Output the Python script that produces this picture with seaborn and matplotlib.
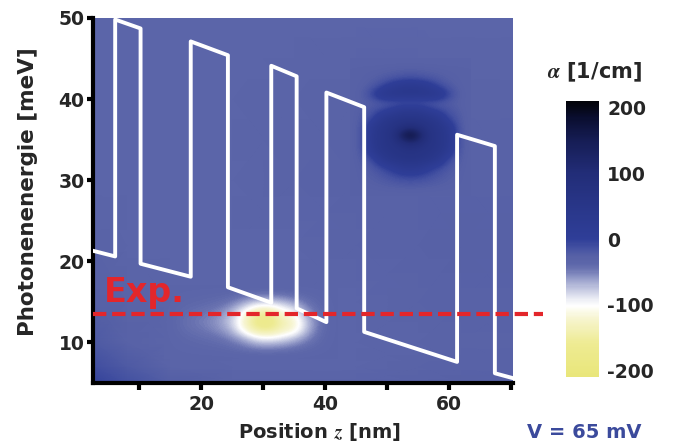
import numpy as np
import matplotlib
matplotlib.use("Agg")
import matplotlib.pyplot as plt
import seaborn as sns
from matplotlib.colors import LinearSegmentedColormap, Normalize
from matplotlib.cm import ScalarMappable

# absorption alpha [1/cm], coarse background grid (rows = energy, cols = position)
bg_z = [2.5, 8, 15, 25, 35, 45, 55, 62, 70.3]
bg_E = [5, 7, 10, 15, 22, 30, 40, 50]
bg_alpha = [
    [-2, -12, -24, -30, -31, -30, -28, -27, -27],
    [-10, -20, -32, -34, -34, -33, -30, -29, -29],
    [-20, -28, -34, -34, -35, -35, -32, -30, -30],
    [-27, -31, -34, -34, -35, -34, -30, -28, -28],
    [-31, -33, -34, -34, -33, -30, -28, -27, -27],
    [-33, -34, -35, -33, -31, -29, -28, -28, -28],
    [-34, -35, -35, -34, -32, -30, -29, -30, -31],
    [-35, -36, -36, -35, -34, -33, -34, -35, -36],
]

# bright (negative alpha) spot near the laser line, z 14..42 nm, E 8..17 meV
spot_z_range = [14, 42]
spot_E_range = [8, 17]
spot_alpha = [
    [-34, -34, -34, -34, -34, -34, -34, -34, -34, -34, -34, -34, -34, -34],
    [-34, -35, -36, -37, -38, -41, -47, -54, -55, -52, -46, -40, -36, -34],
    [-34, -37, -39, -41, -44, -52, -66, -90, -95, -86, -72, -52, -39, -34],
    [-34, -40, -44, -48, -55, -70, -112, -150, -155, -130, -115, -70, -42, -34],
    [-34, -42, -47, -52, -60, -80, -125, -175, -180, -140, -122, -75, -44, -34],
    [-34, -40, -44, -48, -55, -74, -112, -155, -160, -118, -105, -62, -41, -34],
    [-34, -37, -39, -41, -45, -54, -76, -100, -102, -88, -72, -48, -38, -34],
    [-34, -35, -36, -37, -38, -41, -47, -54, -55, -51, -45, -39, -36, -34],
    [-34, -34, -34, -34, -34, -34, -34, -34, -34, -34, -34, -34, -34, -34],
]

# dark (absorbing) blobs, z 44..63.5 nm, E 28..45 meV
blob_z_range = [44, 63.5]
blob_E_range = [28, 45]
blob_alpha = [
    [-29, -29, -29, -29, -29, -29, -29, -29, -29, -29, -29, -29, -29],
    [-29, -27, -26, -24, -22, -20, -19, -20, -22, -24, -26, -27, -29],
    [-29, -26, -23, -18, -12, -6, -4, -6, -12, -18, -23, -26, -29],
    [-29, -24, -18, -8, 5, 25, 30, 25, 5, -8, -18, -24, -29],
    [-29, -20, -8, 30, 50, 55, 58, 55, 50, 30, -8, -20, -29],
    [-29, -14, 25, 50, 55, 60, 65, 60, 55, 50, 25, -14, -29],
    [-29, -10, 35, 52, 60, 80, 100, 85, 62, 52, 35, -10, -29],
    [-29, -10, 35, 52, 65, 140, 195, 135, 65, 52, 35, -10, -29],
    [-29, -12, 28, 50, 58, 75, 90, 75, 58, 50, 28, -12, -29],
    [-29, -18, -5, 35, 50, 55, 55, 55, 50, 35, -5, -18, -29],
    [-29, -22, -14, -5, 10, 30, 35, 30, 10, -5, -14, -22, -29],
    [-29, -26, -24, -22, -22, -22, -22, -22, -22, -22, -24, -26, -29],
    [-29, -22, 0, 30, 40, 42, 42, 42, 40, 30, 0, -22, -29],
    [-29, -26, -18, -5, 15, 28, 32, 28, 15, -5, -18, -26, -29],
    [-29, -28, -26, -22, -18, -14, -12, -14, -18, -22, -26, -28, -29],
    [-29, -28, -28, -27, -26, -25, -24, -25, -26, -27, -28, -28, -29],
    [-31, -31, -31, -31, -31, -31, -31, -31, -31, -31, -31, -31, -31],
]

# conduction band edge profile
band_z = [2.5, 6.1, 6.1, 10.2, 10.2, 18.3, 18.3, 24.3, 24.3, 31.3, 31.3,
          35.4, 35.4, 40.2, 40.2, 46.3, 46.3, 61.3, 61.3, 67.4, 67.4, 70.3]
band_E = [21.3, 20.6, 49.8, 48.7, 19.7, 18.1, 47.1, 45.4, 16.8, 14.9, 44.1,
          42.8, 14.2, 12.5, 40.8, 39.0, 11.3, 7.6, 35.6, 34.2, 6.2, 5.6]

exp_E = 13.5

x_ticks = [10, 20, 30, 40, 50, 60, 70]
x_tick_labels = ["", "20", "", "40", "", "60", ""]
y_ticks = [10, 20, 30, 40, 50]
cbar_ticks = [200, 100, 0, -100, -200]
cbar_labels = ["200", "100", "0", "-100", "-200"]

# colour map: yellow -> white -> blue -> black (nearly flat around the background level)
cmap_stops = [
    (-210, "#e9e67a"), (-160, "#eeeb92"), (-120, "#f7f5d2"), (-102, "#ffffff"),
    (-94, "#f1f2f7"), (-78, "#c8cce3"), (-60, "#959cc9"), (-46, "#6a73b1"),
    (-38, "#5d67aa"), (-26, "#5660a6"), (-14, "#4552a2"), (0, "#2f3e98"),
    (40, "#2a388c"), (100, "#222d78"), (150, "#161d55"), (185, "#0a0e30"),
    (210, "#020308"),
]
red = "#e3262b"

sns.set_theme(style="ticks")
plt.rcParams["font.family"] = ["DejaVu Sans"]
plt.rcParams["font.weight"] = "bold"
plt.rcParams["mathtext.fontset"] = "stix"

cmap = LinearSegmentedColormap.from_list(
    "absorption", [((v + 210) / 420, c) for v, c in cmap_stops])
norm = Normalize(-210, 210)

fig = plt.figure(figsize=(6.73, 4.42), dpi=100)
ax = fig.add_axes([0.138, 0.1335, 0.624, 0.826])

ax.pcolormesh(bg_z, bg_E, np.array(bg_alpha), shading="gouraud",
              cmap=cmap, norm=norm, zorder=0)
ax.imshow(np.array(spot_alpha), extent=spot_z_range + spot_E_range,
          origin="lower", aspect="auto", interpolation="bicubic",
          cmap=cmap, norm=norm, zorder=1)
ax.imshow(np.array(blob_alpha), extent=blob_z_range + blob_E_range,
          origin="lower", aspect="auto", interpolation="bicubic",
          cmap=cmap, norm=norm, zorder=1)

sns.lineplot(x=band_z, y=band_E, sort=False, estimator=None, color="white",
             linewidth=2.8, ax=ax, zorder=3)

ax.axhline(exp_E, xmin=0, xmax=1.072, color=red, lw=3,
           ls=(0, (3.2, 1.4)), clip_on=False, zorder=4)
ax.text(4.2, 15.0, "Exp.", color=red, fontsize=24, fontweight="bold",
        ha="left", va="baseline", zorder=5)

ax.set_xlim(2.5, 70.3)
ax.set_ylim(5, 50)
ax.set_xticks(x_ticks, labels=x_tick_labels)
ax.set_yticks(y_ticks)
for s in ["top", "right"]:
    ax.spines[s].set_visible(False)
for s in ["left", "bottom"]:
    ax.spines[s].set_linewidth(3)
    ax.spines[s].set_color("black")
ax.tick_params(axis="both", direction="out", width=3, color="black",
               labelsize=13.5, bottom=True, left=True)
ax.tick_params(axis="x", length=5, pad=4)
ax.tick_params(axis="y", length=4.5, pad=1.5)

ax.set_ylabel("Photonenenergie [meV]", fontsize=15.5, fontweight="bold")
ax.yaxis.set_label_coords(-0.131, 0.523)
ax.set_xlabel("Position $z$ [nm]", fontsize=14, fontweight="bold")
ax.xaxis.set_label_coords(0.54, -0.103)

cax = fig.add_axes([0.841, 0.147, 0.049, 0.624])
cb = fig.colorbar(ScalarMappable(norm=norm, cmap=cmap), cax=cax)
cb.outline.set_visible(False)
cb.set_ticks(cbar_ticks, labels=cbar_labels)
cax.tick_params(length=0, pad=6, labelsize=13.5)

fig.text(0.883, 0.823, r"$\alpha$ [1/cm]", ha="center", va="baseline",
         fontsize=15, fontweight="bold")
fig.text(0.783, 0.008, "V = 65 mV", color="#3b4a9c", fontsize=14,
         fontweight="bold", ha="left", va="baseline")

fig.savefig("out.png", dpi=100)
